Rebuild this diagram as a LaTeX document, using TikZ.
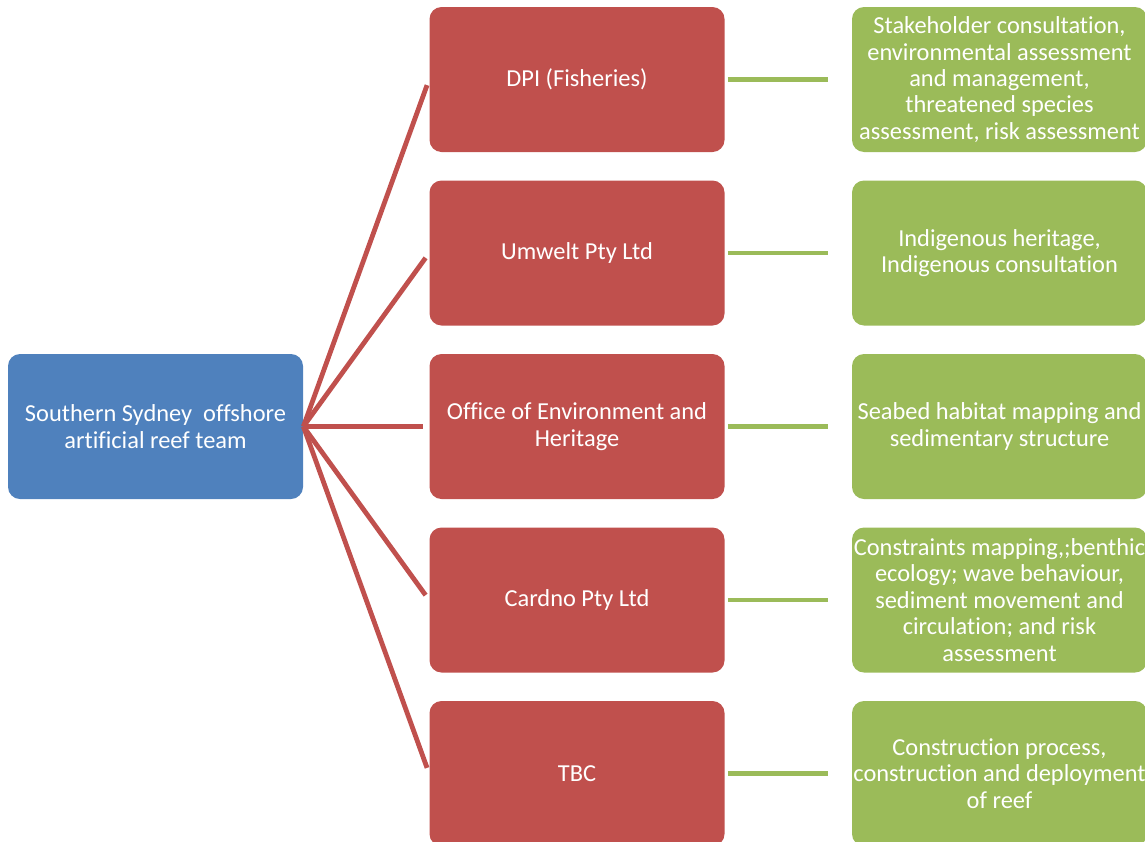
\documentclass[tikz,border=0pt]{standalone}
\usepackage{fontspec}
\setmainfont{Carlito}[Ligatures=NoCommon]
\usetikzlibrary{positioning}
\definecolor{TeamBlue}{HTML}{4F81BD}
\definecolor{AgencyRed}{HTML}{C0504D}
\definecolor{TaskGreen}{HTML}{9BBB59}

\begin{document}
\begin{tikzpicture}[x=0.5pt,y=-0.5pt,
    box/.style={rounded corners=6pt,minimum width=147.5pt,minimum height=72.5pt,
      inner sep=0pt,align=center,text=white,font=\fontsize{12.2}{13.2}\selectfont},
    team/.style={box,fill=TeamBlue},
    agency/.style={box,fill=AgencyRed},
    task/.style={box,fill=TaskGreen},
    spoke/.style={AgencyRed,line width=2.4pt,shorten >=3pt},
    link/.style={TaskGreen,line width=2.2pt,shorten <=1.5pt,shorten >=12pt}]
  \useasboundingbox (0,0) rectangle (1145,841);
  \node[team] (team) at (155.5,426.5) {Southern Sydney~~offshore\\artificial reef team};
  \node[agency] (dpi) at (577,79.5) {DPI (Fisheries)};
  \node[agency] (umwelt) at (577,253) {Umwelt Pty Ltd};
  \node[agency] (oeh) at (577,426.5) {Office of Environment and\\Heritage};
  \node[agency] (cardno) at (577,600) {Cardno Pty Ltd};
  \node[agency] (tbc) at (577,773.5) {TBC};
  \node[task] (dpitask) at (999.5,79.5) {Stakeholder consultation,\\environmental assessment\\and management,\\threatened species\\assessment, risk assessment};
  \node[task] (umwelttask) at (999.5,253) {Indigenous heritage,\\Indigenous consultation};
  \node[task] (oehtask) at (999.5,426.5) {Seabed habitat mapping and\\sedimentary structure};
  \node[task] (cardnotask) at (999.5,600) {Constraints mapping,;benthic\\ecology; wave behaviour,\\sediment movement and\\circulation; and risk\\assessment};
  \node[task] (tbctask) at (999.5,773.5) {Construction process,\\construction and deployment\\of reef};
  % team to agencies
  \draw[spoke] (team.east) -- (dpi.west);
  \draw[spoke] (team.east) -- (umwelt.west);
  \draw[spoke] (team.east) -- (oeh.west);
  \draw[spoke] (team.east) -- (cardno.west);
  \draw[spoke] (team.east) -- (tbc.west);
  % agencies to tasks
  \draw[link] (dpi) -- (dpitask);
  \draw[link] (umwelt) -- (umwelttask);
  \draw[link] (oeh) -- (oehtask);
  \draw[link] (cardno) -- (cardnotask);
  \draw[link] (tbc) -- (tbctask);
\end{tikzpicture}
\end{document}
